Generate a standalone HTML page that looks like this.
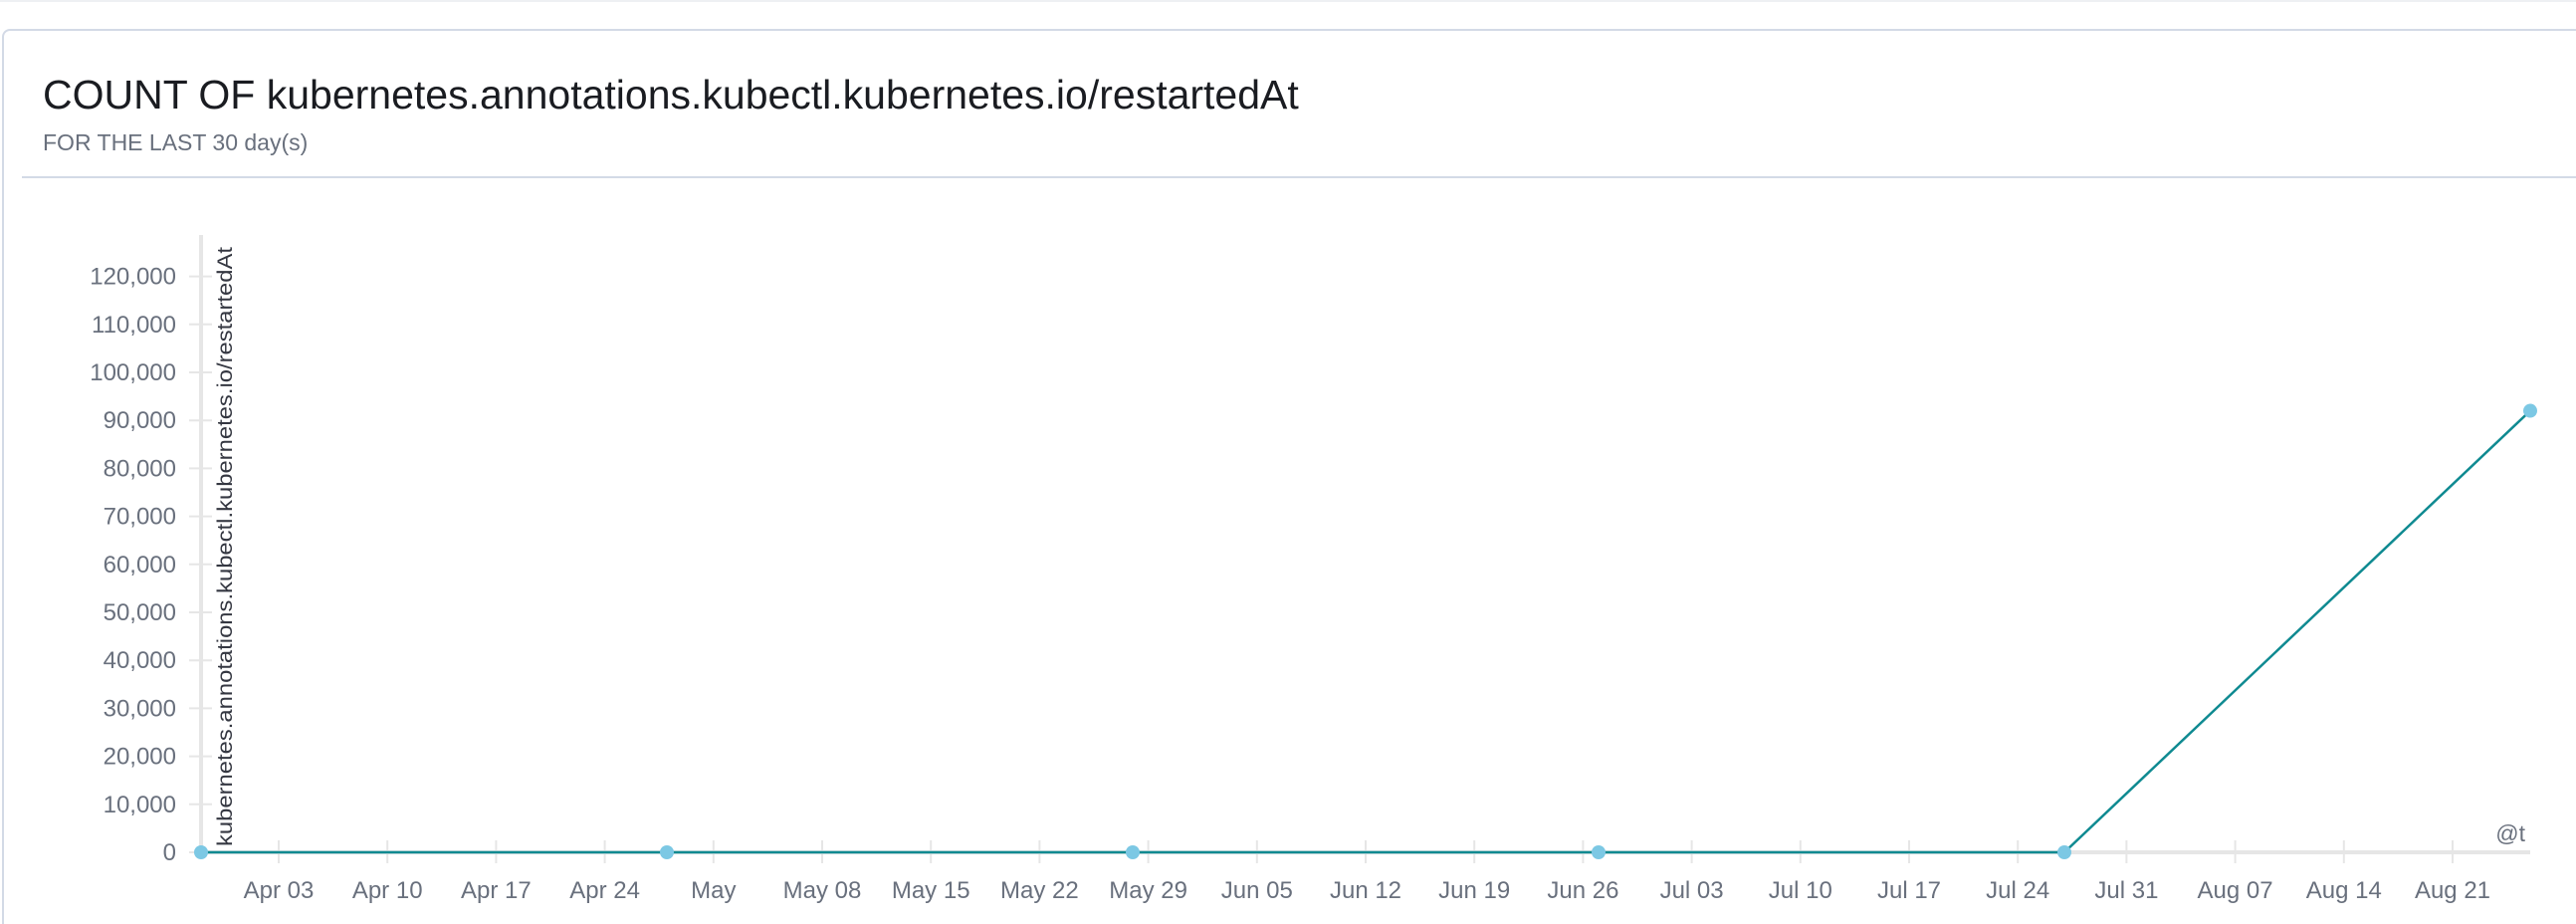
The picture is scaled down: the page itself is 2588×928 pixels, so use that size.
<!DOCTYPE html>
<html><head><meta charset="utf-8"><style>
html,body{margin:0;padding:0;background:#fff;width:2588px;height:928px;overflow:hidden;font-family:"Liberation Sans",sans-serif;position:relative;}
#card{position:absolute;left:2px;top:29px;width:2586px;height:899px;border:2px solid #d3dae6;border-right:none;border-bottom:none;border-radius:8px 0 0 0;box-sizing:border-box;}
#title{position:absolute;left:43px;top:72px;font-size:41px;color:#1a1c21;white-space:nowrap;}
#sub{position:absolute;left:43px;top:130px;font-size:23px;color:#69707d;white-space:nowrap;}
#sep{position:absolute;left:22px;top:177px;width:2566px;height:2px;background:#d3dae6;}
#topline{position:absolute;left:0;top:0;width:2588px;height:2px;background:#eef0f3;}
svg{position:absolute;left:0;top:0;}
</style></head><body>
<div id="topline"></div>
<div id="card"></div>
<div id="title">COUNT OF kubernetes.annotations.kubectl.kubernetes.io/restartedAt</div>
<div id="sub">FOR THE LAST 30 day(s)</div>
<div id="sep"></div>
<svg id="chart" width="2588" height="928"></svg>
<script>
const xDays=[0,30,60,90,120,150];
const counts=[0,0,0,0,0,92000];
const yTicks=[0,10000,20000,30000,40000,50000,60000,70000,80000,90000,100000,110000,120000];
const xTickDays=[5,12,19,26,33,40,47,54,61,68,75,82,89,96,103,110,117,124,131,138,145];
const xTickLabels=["Apr 03","Apr 10","Apr 17","Apr 24","May","May 08","May 15","May 22","May 29","Jun 05","Jun 12","Jun 19","Jun 26","Jul 03","Jul 10","Jul 17","Jul 24","Jul 31","Aug 07","Aug 14","Aug 21"];

const NS="http://www.w3.org/2000/svg";
const svg=document.getElementById('chart');
const X0=202,PXD=15.6,Y0=856,PYV=48.2/10000;
const xs=d=>X0+d*PXD;
const ys=v=>Y0-v*PYV;
function mk(t,a,p){const e=document.createElementNS(NS,t);for(const k in a)e.setAttribute(k,a[k]);(p||svg).appendChild(e);return e;}

let ax=mk('line',{x1:X0,y1:236,x2:X0,y2:Y0,stroke:'#e6e6e6','stroke-width':4});


let bx=mk('line',{x1:X0,y1:Y0,x2:xs(150),y2:Y0,stroke:'#e6e6e6','stroke-width':4});



yTicks.forEach(v=>{
  const y=ys(v);
  const t=mk('line',{x1:190,y1:y,x2:213,y2:y,stroke:'#e6e6e6','stroke-width':2});
  
  
  const l=mk('text',{x:177,y:y+8,'text-anchor':'end','font-size':24,fill:'#69707d','font-family':'Liberation Sans, sans-serif'});
  l.textContent=v.toLocaleString('en-US');
  
  
});
xTickDays.forEach((d,i)=>{
  const x=xs(d);
  const t=mk('line',{x1:x,y1:844,x2:x,y2:867,stroke:'#e6e6e6','stroke-width':2});
  
  
  const l=mk('text',{x:x,y:902,'text-anchor':'middle','font-size':24,fill:'#69707d','font-family':'Liberation Sans, sans-serif'});
  l.textContent=xTickLabels[i];
  
  
});

const yt=mk('text',{transform:'translate(233,850) rotate(-90)','font-size':21,fill:'#343741',textLength:602,lengthAdjust:'spacingAndGlyphs','font-family':'Liberation Sans, sans-serif'});
yt.textContent='kubernetes.annotations.kubectl.kubernetes.io/restartedAt';



const xt=mk('text',{x:2537,y:845,'text-anchor':'end','font-size':23,fill:'#69707d','font-family':'Liberation Sans, sans-serif'});
xt.textContent='@t';



const pts=xDays.map((d,i)=>xs(d)+','+ys(counts[i])).join(' ');
const pl=mk('polyline',{points:pts,fill:'none',stroke:'#0f8a91','stroke-width':2.5});


xDays.forEach((d,i)=>{
  const c=mk('circle',{cx:xs(d),cy:ys(counts[i]),r:7,fill:'#7cc8e4'});
  
  
});
</script>
</body></html>
